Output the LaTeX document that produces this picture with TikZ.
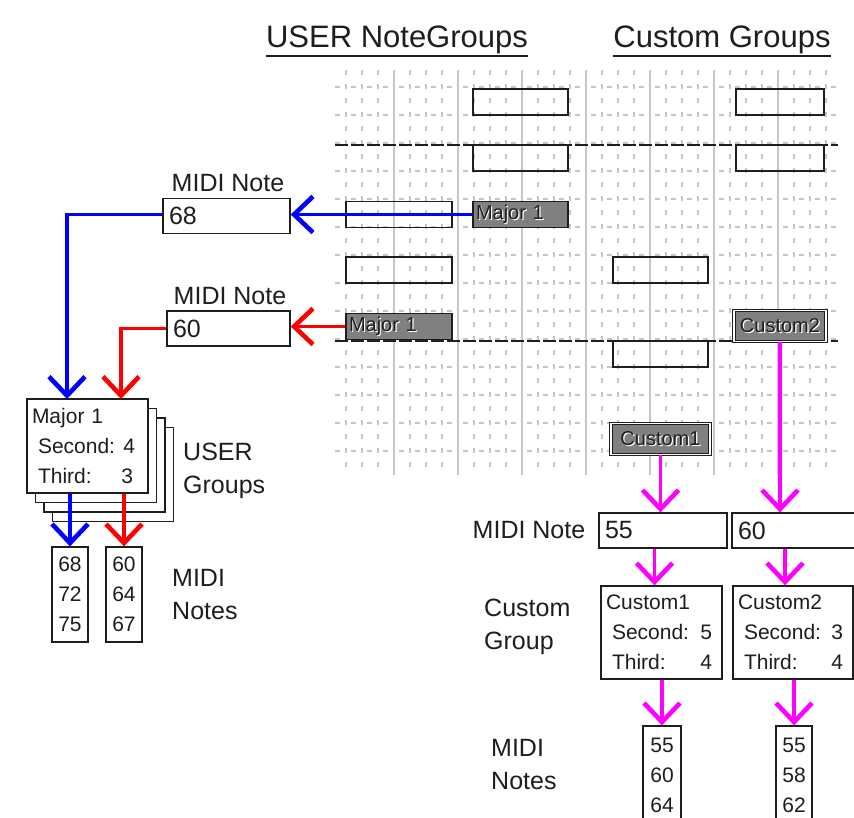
\documentclass[tikz,border=0pt]{standalone}
\usepackage{fontspec}
\setmainfont{Liberation Sans}
\usetikzlibrary{arrows.meta,calc}
\definecolor{ink}{HTML}{1E1E1E}
\definecolor{gridgray}{HTML}{C6C6C6}
\definecolor{slotgray}{HTML}{808080}
\definecolor{blue}{HTML}{0000FF}
\definecolor{red}{HTML}{FF0000}
\definecolor{pink}{HTML}{FF00FF}
\newcommand{\embossed}[1]{\makebox[0pt][l]{\hspace*{1.2pt}\raisebox{-1.2pt}{\color{white}#1}}#1}
\tikzset{
  box/.style={draw=ink, line width=1.3pt, inner sep=0pt},
  slot/.style={box, minimum height=26pt},
  hitslot/.style={box, minimum height=26pt, fill=slotgray, text=ink, inner xsep=3pt,
    align=left, font=\fontsize{20}{20}\selectfont},
  custslot/.style={draw=ink, line width=1.1pt, double=white, double distance=1.6pt,
    fill=slotgray, text=ink, inner sep=0pt, minimum height=31pt,
    font=\fontsize{20}{20}\selectfont},
  notebox/.style={box, minimum height=35pt, inner xsep=6pt, align=left, text=ink,
    font=\fontsize{25}{25}\selectfont},
  groupbox/.style={box, fill=white, minimum height=94pt, inner xsep=5pt, align=left,
    text=ink, font=\fontsize{21}{30}\selectfont},
  numbox/.style={box, minimum width=36pt, minimum height=95pt, align=center, text=ink,
    font=\fontsize{21}{30}\selectfont},
  lbl/.style={text=ink, inner sep=0pt, align=left, font=\fontsize{25}{33}\selectfont},
  head/.style={text=ink, inner sep=0pt, font=\fontsize{31}{31}\selectfont},
  gridln/.style={draw=gridgray, line width=1.2pt},
  barline/.style={draw=ink, line width=1.8pt, dash pattern=on 13pt off 3pt},
  arr/.style={line width=3.2pt,
    -{Straight Barb[length=19pt, width=36pt, line width=4.6pt]}},
  barr/.style={arr, draw=blue},
  rarr/.style={arr, draw=red},
  parr/.style={arr, draw=pink}
}

\begin{document}
\begin{tikzpicture}[x=1pt, y=-1pt]
  \clip (0,0) rectangle (854,818);
  \fill[white] (0,0) rectangle (854,818);

  % headings
  \node[head] (hdUser) at (397,40) {USER NoteGroups};
  \node[head] (hdCustom) at (722,40) {Custom Groups};
  \draw[ink, line width=1.5pt] ([yshift=-2pt]hdUser.south west) -- ([yshift=-2pt]hdUser.south east);
  \draw[ink, line width=1.5pt] ([yshift=-2pt]hdCustom.south west) -- ([yshift=-2pt]hdCustom.south east);

  % grid
  \foreach \x in {346,362,...,826}
    \draw[gridln, dash pattern=on 5pt off 9pt] (\x,70) -- (\x,475);
  \foreach \y in {87,115,...,451}
    \draw[gridln, dash pattern=on 5pt off 11pt] (335,\y) -- (838,\y);
  \foreach \x in {394,458,...,778}
    \draw[gridln, line width=1.6pt] (\x,70) -- (\x,475);
  \draw[barline] (335,145) -- (838,145);
  \draw[barline] (335,341) -- (838,341);

  % note groups in the grid
  \node[slot, minimum width=95pt] (s1) at (520.5,102) {};
  \node[slot, minimum width=88pt] (s2) at (780,102) {};
  \node[slot, minimum width=95pt] (s3) at (520.5,158) {};
  \node[slot, minimum width=88pt] (s4) at (780,158) {};
  \node[slot, minimum width=106pt] (s5) at (399,214.5) {};
  \node[hitslot, text width=89pt] (majorA) at (520.5,214.5) {\embossed{Major 1}};
  \node[slot, minimum width=106pt] (s6) at (399,270) {};
  \node[slot, minimum width=95pt] (s7) at (660.5,270) {};
  \node[hitslot, text width=100pt] (majorB) at (399,326.5) {\embossed{Major 1}};
  \node[custslot, minimum width=92pt] (custB) at (780,326) {\embossed{Custom2}};
  \node[slot, minimum width=95pt] (s8) at (660.5,354) {};
  \node[custslot, minimum width=99pt] (custA) at (660.5,439) {\embossed{Custom1}};

  % USER side
  \node[lbl] (lblNoteA) at (228,183) {MIDI Note};
  \node[notebox, text width=115pt] (noteA) at (226.5,216) {68};
  \node[lbl] (lblNoteB) at (230,296) {MIDI Note};
  \node[notebox, text width=111pt] (noteB) at (228.5,328.5) {60};

  \foreach \k in {3,2,1}
    \draw[box, fill=white] (27+8.5*\k,399+9.5*\k) rectangle ++(121,94);
  \node[groupbox, text width=111pt] (userGroup) at (87.5,446)
    {Major 1\\\hspace*{6pt}Second:\hfill 4\kern8pt\\\hspace*{6pt}Third:\hfill 3\kern10pt};
  \node[lbl, anchor=west] (lblUser) at (183,471) {USER\\Groups};

  \node[numbox] (notesA) at (70,594.5) {68\\72\\75};
  \node[numbox] (notesB) at (124,594.5) {60\\64\\67};
  \node[lbl, anchor=west] (lblNotesA) at (172,594.5) {MIDI\\Notes};

  \coordinate (blueIn) at (67,399);
  \coordinate (redIn) at (121,399);
  \draw[barr] (majorA.west) -- (noteA.east |- majorA.west);
  \draw[barr] (noteA.west |- majorA.west) -| (blueIn);
  \draw[rarr] (majorB.west) -- (noteB.east |- majorB.west);
  \draw[rarr] (noteB.west) -| (redIn);
  \draw[barr] (notesA.north |- userGroup.south) -- (notesA.north);
  \draw[rarr] (notesB.north |- userGroup.south) -- (notesB.north);

  % Custom side
  \node[lbl] (lblNoteC) at (529,530) {MIDI Note};
  \node[notebox, text width=116pt] (noteC) at (663,530.5) {55};
  \node[notebox, text width=116pt] (noteD) at (796,530.5) {60};

  \node[groupbox, minimum height=93pt, text width=111pt] (custGroupA) at (661.5,632.5)
    {Custom1\\\hspace*{6pt}Second:\hfill 5\kern5pt\\\hspace*{6pt}Third:\hfill 4\kern5pt};
  \node[groupbox, minimum height=93pt, text width=110pt] (custGroupB) at (793,632.5)
    {Custom2\\\hspace*{6pt}Second:\hfill 3\kern5pt\\\hspace*{6pt}Third:\hfill 4\kern5pt};
  \node[lbl, anchor=west] (lblCust) at (484,626.5) {Custom\\Group};

  \node[numbox, minimum width=38pt, minimum height=98pt] (notesC) at (662,775) {55\\60\\64};
  \node[numbox, minimum width=36pt, minimum height=98pt] (notesD) at (794,775) {55\\58\\62};
  \node[lbl, anchor=west] (lblNotesC) at (491,765) {MIDI\\Notes};

  \draw[parr] (custA.south) -- (custA.south |- noteC.north);
  \draw[parr] (custB.south) -- (custB.south |- noteD.north);
  \draw[parr] ([xshift=-7pt]custGroupA.north |- noteC.south) -- ([xshift=-7pt]custGroupA.north);
  \draw[parr] ([xshift=-8pt]custGroupB.north |- noteD.south) -- ([xshift=-8pt]custGroupB.north);
  \draw[parr] (notesC.north |- custGroupA.south) -- (notesC.north);
  \draw[parr] (notesD.north |- custGroupB.south) -- (notesD.north);
\end{tikzpicture}
\end{document}
